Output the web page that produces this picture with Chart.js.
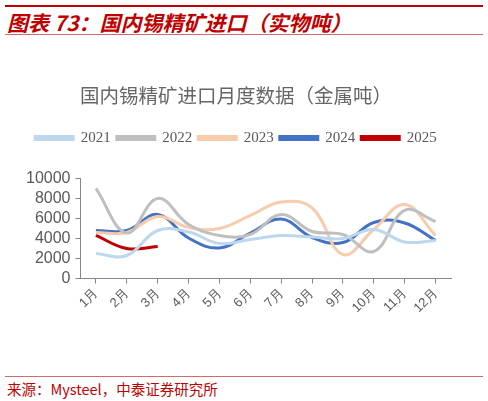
<!DOCTYPE html>
<html>
<head>
<meta charset="utf-8">
<script src="https://cdn.jsdelivr.net/npm/chart.js@4"></script>
<style>
  body { margin: 0; width: 488px; height: 401px; background: #fff; position: relative; overflow: hidden; font-family: "Noto Sans CJK SC", sans-serif; }
  .topline { position: absolute; left: 5px; width: 478px; top: 5px; height: 2px; background: #C00000; }
  .head { position: absolute; left: 7px; top: 7px; font-size: 21px; font-weight: bold; font-style: italic; color: #C00000; white-space: nowrap; }
  .headline { position: absolute; left: 5px; width: 478px; top: 34px; height: 1px; background: #D46A6A; }
  .srcline { position: absolute; left: 5px; width: 478px; top: 376px; height: 1px; background: #D46A6A; }
  .src { position: absolute; left: 7px; top: 378px; font-size: 14.5px; color: #C00000; white-space: nowrap; }
  #wrap { position: absolute; left: 0; top: 70px; width: 488px; height: 248px; }
</style>
</head>
<body>
<div class="topline"></div>
<div class="head">图表 73：国内锡精矿进口（实物吨）</div>
<div class="headline"></div>
<div id="wrap"><canvas id="chart" width="488" height="248"></canvas></div>
<div class="srcline"></div>
<div class="src">来源：Mysteel，中泰证券研究所</div>
<script>
const months = ['1月', '2月', '3月', '4月', '5月', '6月', '7月', '8月', '9月', '10月', '11月', '12月'];
const y2021 = [2500, 2300, 4800, 4650, 3500, 3900, 4300, 4150, 4000, 4900, 3650, 3800];
const y2022 = [9000, 4550, 8000, 5400, 4300, 4400, 6400, 4700, 4400, 2700, 6800, 5700];
const y2023 = [4600, 4600, 6200, 5100, 5000, 6300, 7650, 7050, 2400, 4900, 7400, 4300];
const y2024 = [4800, 4800, 6400, 4050, 3050, 4550, 5950, 4100, 3600, 5600, 5550, 3800];
const y2025 = [4300, 3000, 3200];
const yTicks = [0, 2000, 4000, 6000, 8000, 10000];

function series(label, data, color, width) {
  return {
    label: label,
    data: data,
    borderColor: color,
    backgroundColor: color,
    borderWidth: width,
    pointRadius: 0,
    tension: 0.4,
    fill: false
  };
}

const grey = '#595959';

// extra room under the legend
const legendGap = {
  id: 'legendGap',
  beforeInit(chart) {
    const fit = chart.legend.fit;
    chart.legend.fit = function () {
      fit.bind(chart.legend)();
      this.height += 23;
    };
  }
};

new Chart(document.getElementById('chart'), {
  type: 'line',
  data: {
    labels: months,
    datasets: [
      series('2021', y2021, '#BDD7EE', 3),
      series('2022', y2022, '#BFBFBF', 3),
      series('2023', y2023, '#F8CBAD', 3),
      series('2024', y2024, '#4472C4', 3),
      series('2025', y2025, '#C00000', 3)
    ]
  },
  options: {
    responsive: false,
    animation: false,
    layout: { padding: { left: 21, right: 37, top: 14, bottom: 0 } },
    plugins: {
      title: {
        display: true,
        text: '国内锡精矿进口月度数据（金属吨）',
        color: '#666',
        font: { family: 'Noto Sans CJK SC', size: 19.5, weight: 'normal' },
        padding: { top: 0, bottom: 17 }
      },
      legend: {
        position: 'top',
        labels: {
          boxWidth: 38,
          boxHeight: 3,
          color: grey,
          font: { family: 'Liberation Serif', size: 15 },
          padding: 6
        }
      },
      tooltip: { enabled: false }
    },
    scales: {
      x: {
        offset: true,
        grid: { display: true, drawOnChartArea: false, color: '#888', tickLength: 5 },
        border: { color: '#888' },
        ticks: {
          color: grey,
          font: { family: 'Liberation Sans', size: 13 },
          maxRotation: 45,
          minRotation: 45,
          autoSkip: false,
          padding: 2
        }
      },
      y: {
        min: 0,
        max: 10000,
        afterBuildTicks: function (axis) { axis.ticks = yTicks.map(v => ({ value: v })); },
        grid: { display: true, drawOnChartArea: false, color: '#888', tickLength: 5 },
        border: { color: '#888' },
        ticks: {
          color: grey,
          font: { family: 'Liberation Sans', size: 16 },
          padding: 5,
          autoSkip: false,
          callback: v => String(v)
        }
      }
    }
  },
  plugins: [legendGap]
});
</script>
</body>
</html>
